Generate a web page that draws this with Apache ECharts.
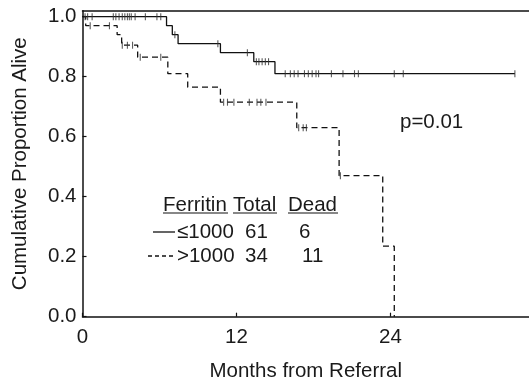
<!DOCTYPE html>
<html>
<head>
<meta charset="utf-8">
<script src="https://cdn.jsdelivr.net/npm/echarts@6/dist/echarts.min.js"></script>
<style>
  html, body { margin: 0; padding: 0; background: #ffffff; }
  #chart { width: 529px; height: 382px; }
</style>
</head>
<body>
<div id="chart"></div>
<script>
// Kaplan-Meier steps: [month, cumulative proportion alive after the event]
const lowFerritinSteps = [[0, 1], [6.55, 0.97], [7.0, 0.94], [7.45, 0.91], [10.75, 0.88], [13.35, 0.85], [15.0, 0.81], [33.7, 0.81]];
const highFerritinSteps = [[0, 1], [0.25, 0.97], [2.7, 0.94], [3.05, 0.905], [4.3, 0.865], [6.65, 0.81], [8.2, 0.765], [10.75, 0.715], [16.7, 0.63], [20.0, 0.47], [23.4, 0.235], [24.3, 0]];

// Censored follow-up times (months)
const lowFerritinCensored = [0.2, 0.4, 0.75, 2.4, 2.6, 2.85, 3.1, 3.3, 3.5, 3.65, 3.8, 4.1, 4.9, 5.8, 6.1, 7.2, 10.55, 12.85, 13.55, 13.75, 14.0, 14.25, 14.5, 15.8, 16.2, 16.5, 16.8, 17.3, 17.6, 17.9, 18.2, 18.4, 19.4, 20.3, 21.2, 21.5, 24.3, 25.0, 33.7];
const highFerritinCensored = [0.6, 2.1, 3.1, 3.5, 3.9, 4.5, 6.1, 11.0, 11.3, 11.8, 13.0, 13.6, 13.9, 14.3, 16.85, 17.2, 17.45, 20.1];

// Group summary table
const groupLabels = ['≤1000', '>1000'];
const groupTotals = [61, 34];
const groupDeaths = [6, 11];
const pValueText = 'p=0.01';

// Axis ticks
const xTicks = [0, 12, 24];
const yTicks = [0, 0.2, 0.4, 0.6, 0.8, 1.0];

// Survival level in effect at time t (last step at or before t)
function levelAt(steps, t) {
  let v = steps[0][1];
  for (const [x, y] of steps) { if (x <= t) v = y; }
  return v;
}
const censorPoints = (steps, times) => times.map(t => [t, levelAt(steps, t)]);

const INK = '#111111';
const TEXT = '#1a1a1a';
const FONT = 'Liberation Sans, Arial, Helvetica, sans-serif';
const FS = 20.5;

const chart = echarts.init(document.getElementById('chart'), null, { renderer: 'canvas' });

const txt = (text, x, y, align) => ({
  type: 'text', x: x, y: y,
  style: { text: text, fill: TEXT, font: FS + 'px ' + FONT, textAlign: align || 'left', textVerticalAlign: 'middle' },
  z: 10
});
const seg = (x1, y1, x2, y2, dash, w) => ({
  type: 'line', shape: { x1: x1, y1: y1, x2: x2, y2: y2 },
  style: { stroke: INK, lineWidth: w || 1.3, lineDash: dash || null }, z: 10
});

const graphics = [
  txt('Ferritin', 163, 205), txt('Total', 233, 205), txt('Dead', 288, 205),
  seg(163, 213, 228, 213, null, 1.2), seg(233, 213, 277, 213, null, 1.2), seg(288, 213, 338, 213, null, 1.2),
  seg(153, 232, 175, 232),
  seg(148, 256, 174, 256, [4, 3]),
  txt(groupLabels[0], 177, 232), txt(String(groupTotals[0]), 245, 232), txt(String(groupDeaths[0]), 299, 232),
  txt(groupLabels[1], 177, 256), txt(String(groupTotals[1]), 245, 256), txt(String(groupDeaths[1]), 302, 256),
  txt(pValueText, 400, 122)
];

const option = {
  animation: false,
  backgroundColor: '#ffffff',
  textStyle: { fontFamily: FONT },
  grid: { left: 82.5, right: 0, top: 10.7, bottom: 65.3, containLabel: false, outerBoundsMode: 'none' },
  xAxis: [{
    type: 'value', min: 0, max: 34.8,
    name: 'Months from Referral', nameLocation: 'middle', nameGap: 44,
    nameTextStyle: { fontSize: FS, color: TEXT, fontFamily: FONT },
    axisLine: { show: true, lineStyle: { color: INK, width: 1.5 } },
    axisTick: { show: true, inside: true, length: 4, customValues: xTicks, lineStyle: { color: INK, width: 1.2 } },
    axisLabel: { customValues: xTicks, fontSize: FS, color: TEXT, margin: 10, fontFamily: FONT },
    splitLine: { show: false }
  }, {
    type: 'value', min: 0, max: 34.8, position: 'top',
    axisLine: { show: true, lineStyle: { color: INK, width: 1.5 } },
    axisTick: { show: false }, axisLabel: { show: false }, splitLine: { show: false }
  }],
  yAxis: {
    type: 'value', min: 0, max: 1.02,
    name: 'Cumulative Proportion Alive', nameLocation: 'middle', nameGap: 52,
    nameTextStyle: { fontSize: FS, color: TEXT, fontFamily: FONT },
    axisLine: { show: true, lineStyle: { color: INK, width: 1.5 } },
    axisTick: { show: true, inside: true, length: 4, customValues: yTicks, lineStyle: { color: INK, width: 1.2 } },
    axisLabel: { customValues: yTicks, fontSize: FS, color: TEXT, margin: 6, fontFamily: FONT,
                 formatter: v => v.toFixed(1) },
    splitLine: { show: false }
  },
  series: [
    {
      name: '≤1000', type: 'line', step: 'end', data: lowFerritinSteps, showSymbol: false,
      lineStyle: { color: INK, width: 1.3 }, z: 3
    },
    {
      name: '>1000', type: 'line', step: 'end', data: highFerritinSteps, showSymbol: false,
      lineStyle: { color: INK, width: 1.3, type: [6, 4] }, z: 4
    },
    {
      name: '≤1000 censored', type: 'scatter', data: censorPoints(lowFerritinSteps, lowFerritinCensored),
      symbol: 'rect', symbolSize: [1.1, 7], itemStyle: { color: '#333333' }, z: 5
    },
    {
      name: '>1000 censored', type: 'scatter', data: censorPoints(highFerritinSteps, highFerritinCensored),
      symbol: 'rect', symbolSize: [1.1, 7], itemStyle: { color: '#333333' }, z: 5
    }
  ],
  graphic: graphics
};

chart.setOption(option);
</script>
</body>
</html>
